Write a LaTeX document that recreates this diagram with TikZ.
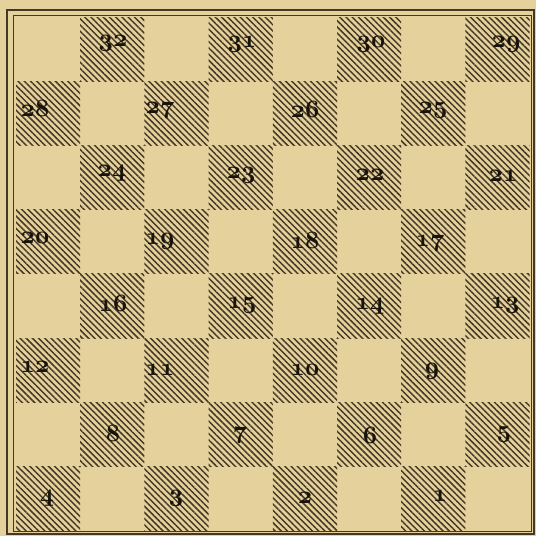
\documentclass[tikz,border=0pt]{standalone}
\usetikzlibrary{patterns.meta}
\definecolor{paper}{RGB}{229,209,155}
\definecolor{ink}{RGB}{70,56,38}
\newcommand\sqfig[1]{{\usefont{OML}{cmm}{b}{it}\fontsize{26}{28}\selectfont #1}}
\tikzset{
  board/.style={fill=paper},
  darksq/.style={pattern={Lines[angle=-45,distance=4.4pt,line width=1.45pt]}, pattern color=ink},
  outerframe/.style={draw=ink, line width=2.8pt},
  innerframe/.style={draw=ink, line width=1pt},
  sqnum/.style={text=ink!35!black, inner sep=0pt},
}

\begin{document}
\begin{tikzpicture}[x=1pt,y=-1pt]
\useasboundingbox (0,0) rectangle (536,536);
\fill[board] (0,0) rectangle (536,536);
% hatched squares, 4 per row
\foreach \r in {1,...,8}
  \foreach \k in {1,...,4} {
    \pgfmathtruncatemacro{\c}{2*\k-1+mod(\r,2)}
    \fill[darksq] ({16+64.2*(\c-1)},{17+64.2*(\r-1)}) rectangle ++(64.2,64.2);
  }
\draw[outerframe] (7,10) rectangle (534,534);
\draw[innerframe] (13,15) rectangle (531,531);
% numbers
\foreach \n/\x/\y in {32/113/43, 31/242/44, 30/371/44, 29/506/44,
                      28/35/108, 27/160/110, 26/305/109, 25/433/110,
                      24/112/173, 23/241/175, 22/370/175, 21/503/176,
                      20/35/238, 19/160/241, 18/305/240, 17/430/243,
                      16/113/303, 15/242/305, 14/370/306, 13/505/305,
                      12/35/367, 11/160/370, 10/305/370, 9/432/371,
                      8/113/433, 7/240/435, 6/370/435, 5/504/434,
                      4/47/498, 3/176/498, 2/305/498, 1/440/496}
  \node[sqnum] (n\n) at (\x,\y) {\sqfig{\n}};
\end{tikzpicture}
\end{document}
